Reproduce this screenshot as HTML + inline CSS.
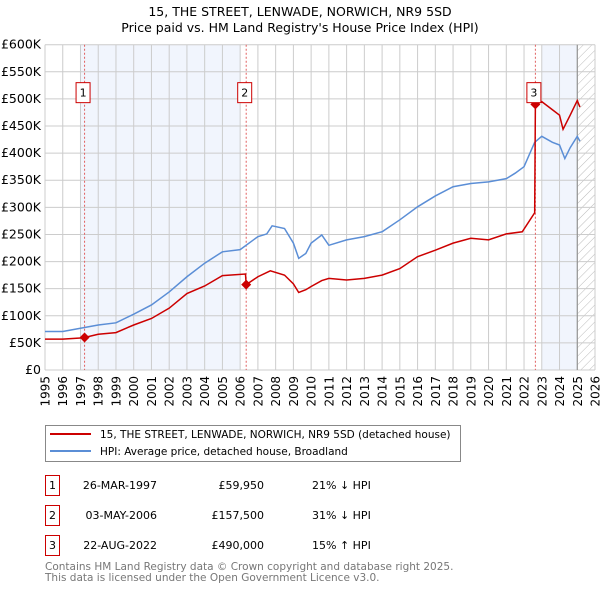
<!DOCTYPE html>
<html><head><meta charset="utf-8"><style>
body{margin:0;background:#fff;width:600px;height:590px;overflow:hidden;font-family:"DejaVu Sans","Liberation Sans",sans-serif}
svg text{font-family:"DejaVu Sans","Liberation Sans",sans-serif}
</style></head><body>
<svg id="chart" width="600" height="590" xmlns="http://www.w3.org/2000/svg">
<defs><pattern id="hatch" width="6" height="6" patternUnits="userSpaceOnUse" patternTransform="rotate(45)"><line x1="0" y1="0" x2="0" y2="6" stroke="#bbb" stroke-width="1"/></pattern></defs>
<text x="300" y="16" text-anchor="middle" font-size="12.5">15, THE STREET, LENWADE, NORWICH, NR9 5SD</text>
<text x="300" y="32" text-anchor="middle" font-size="12.5">Price paid vs. HM Land Registry's House Price Index (HPI)</text>
<g id="plot"></g>
<g>
<rect x="45.5" y="425.5" width="415" height="36" fill="#fff" stroke="#888"/>
<line x1="50" y1="434" x2="91" y2="434" stroke="#cc0000" stroke-width="2"/>
<text x="100" y="438" font-size="10.5">15, THE STREET, LENWADE, NORWICH, NR9 5SD (detached house)</text>
<line x1="50" y1="451" x2="91" y2="451" stroke="#5b8ed6" stroke-width="2"/>
<text x="100" y="455" font-size="10.5">HPI: Average price, detached house, Broadland</text>
</g>
<g font-size="11">
<rect x="45.5" y="475.5" width="14" height="20" fill="#fff" stroke="#cc0000"/><text x="52.5" y="489" text-anchor="middle">1</text>
<text x="157" y="489" text-anchor="end">26-MAR-1997</text><text x="264" y="489" text-anchor="end">£59,950</text><text x="312" y="489">21% ↓ HPI</text>
<rect x="45.5" y="505.5" width="14" height="20" fill="#fff" stroke="#cc0000"/><text x="52.5" y="519" text-anchor="middle">2</text>
<text x="157" y="519" text-anchor="end">03-MAY-2006</text><text x="264" y="519" text-anchor="end">£157,500</text><text x="312" y="519">31% ↓ HPI</text>
<rect x="45.5" y="535.5" width="14" height="20" fill="#fff" stroke="#cc0000"/><text x="52.5" y="549" text-anchor="middle">3</text>
<text x="157" y="549" text-anchor="end">22-AUG-2022</text><text x="264" y="549" text-anchor="end">£490,000</text><text x="312" y="549">15% ↑ HPI</text>
</g>
<text x="45" y="570" font-size="10.5" fill="#777">Contains HM Land Registry data © Crown copyright and database right 2025.</text>
<text x="45" y="581" font-size="10.5" fill="#777">This data is licensed under the Open Government Licence v3.0.</text>
</svg>
<script>
const hpiYears=[1995,1996,1997,1998,1999,2000,2001,2002,2003,2004,2005,2006,2007,2007.5,2007.8,2008.5,2009,2009.3,2009.7,2010,2010.6,2011,2012,2013,2014,2015,2016,2017,2018,2019,2020,2021,2021.5,2022,2022.6,2023,2023.6,2024,2024.3,2024.6,2025,2025.15];
const hpiValues=[71,71,77,83,87,103,120,144,172,197,218,222,246,251,266,261,234,206,215,234,249,230,240,246,255,277,301,321,338,344,347,353,363,375,420,431,420,415,390,410,431,422];
const priceYears=[1995,1996,1997,1997.23,1998,1999,2000,2001,2002,2003,2004,2005,2006.3,2006.34,2007,2007.7,2008.5,2009,2009.3,2009.7,2010,2010.6,2011,2012,2013,2014,2015,2016,2017,2018,2019,2020,2021,2021.9,2022.6,2022.64,2023,2023.6,2024,2024.2,2024.6,2025,2025.15];
const priceValues=[57,57,59,59.95,66,69,83,95,114,141,155,174,177,157.5,172,183,175,159,143,148,154,165,169,166,169,175,187,209,221,234,243,240,251,255,290,490,495,480,470,444,470,497,485];
const saleYears=[1997.23,2006.34,2022.64];
const saleValues=[59.95,157.5,490];
const saleLabels=["1","2","3"];
const yTicks=[0,50,100,150,200,250,300,350,400,450,500,550,600];
const xTicks=[1995,1996,1997,1998,1999,2000,2001,2002,2003,2004,2005,2006,2007,2008,2009,2010,2011,2012,2013,2014,2015,2016,2017,2018,2019,2020,2021,2022,2023,2024,2025,2026];
const X0=45,X1=595,Y0=370,Y1=44.7;
const xs=y=>X0+(y-1995)/(2026-1995)*(X1-X0);
const ys=v=>Y0-v/600*(Y0-Y1);
const NS="http://www.w3.org/2000/svg";
const g=document.getElementById('plot');
function mk(t,a,p){const e=document.createElementNS(NS,t);for(const k in a)e.setAttribute(k,a[k]);(p||g).appendChild(e);return e;}
let r;
r=mk('rect',{x:xs(1997),y:Y1,width:xs(2006)-xs(1997),height:Y0-Y1,fill:'#eef3fc',opacity:0.8});


r=mk('rect',{x:xs(2023),y:Y1,width:xs(2025)-xs(2023),height:Y0-Y1,fill:'#eef3fc',opacity:0.8});


r=mk('rect',{x:xs(2025),y:Y1,width:X1-xs(2025),height:Y0-Y1,fill:'url(#hatch)'});


yTicks.forEach(v=>{
 const l=mk('line',{x1:X0,x2:X1,y1:ys(v),y2:ys(v),stroke:'#ccc','stroke-width':1});
 
 
 const t=mk('text',{x:X0-4,y:ys(v)+4,'text-anchor':'end','font-size':'12.5'});
 t.textContent=v===0?'£0':'£'+v+'K';
 
 
});
xTicks.forEach(y=>{
 const l=mk('line',{x1:xs(y),x2:xs(y),y1:Y1,y2:Y0,stroke:'#ccc','stroke-width':1});
 
 
 const t=mk('text',{x:0,y:0,'text-anchor':'end','font-size':'12',transform:`translate(${xs(y)+4.5},${Y0+6}) rotate(-90)`});
 t.textContent=y;
 
 
});
r=mk('line',{x1:xs(2025),x2:xs(2025),y1:Y1,y2:Y0,stroke:'#888','stroke-width':1});


saleYears.forEach((y,i)=>{
 const l=mk('line',{x1:xs(y),x2:xs(y),y1:Y1,y2:Y0,stroke:'#e06060','stroke-width':1,'stroke-dasharray':'2,2'});
 
 
});
const hp=mk('polyline',{points:hpiYears.map((y,i)=>xs(y)+','+ys(hpiValues[i])).join(' '),fill:'none',stroke:'#5b8ed6','stroke-width':1.5});


const pp=mk('polyline',{points:priceYears.map((y,i)=>xs(y)+','+ys(priceValues[i])).join(' '),fill:'none',stroke:'#cc0000','stroke-width':1.5});


saleYears.forEach((y,i)=>{
 const cx=xs(y),cy=ys(saleValues[i]);
 const d=mk('polygon',{points:`${cx},${cy-5} ${cx+5},${cy} ${cx},${cy+5} ${cx-5},${cy}`,fill:'#cc0000'});
 
 
 const b=mk('rect',{x:cx-8.5,y:ys(530),width:14,height:20,fill:'#fff',stroke:'#cc0000'});
 
 
 const t=mk('text',{x:cx-1.5,y:ys(530)+14,'text-anchor':'middle','font-size':'11'});
 t.textContent=saleLabels[i];
 
 
});
</script>
</body></html>
